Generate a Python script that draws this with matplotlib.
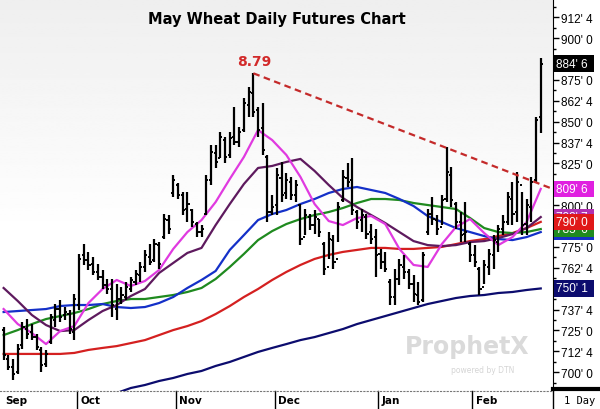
import numpy as np
import matplotlib.pyplot as plt
from matplotlib.lines import Line2D
from matplotlib.ticker import MultipleLocator, FuncFormatter

# daily bars (cents), one per trading day
highs = [727, 710, 708, 717, 730, 732, 729, 723, 715, 713, 735, 741, 743, 739, 737, 747,
         771, 777, 772, 769, 765, 761, 756, 756, 753, 751, 754, 757, 761, 766, 773, 777,
         780, 778, 795, 794, 818, 813, 808, 808, 798, 790, 788, 818, 836, 836, 844, 841,
         844, 859, 847, 864, 871, 879, 859, 861, 830, 806, 822, 826, 819, 817, 815, 801,
         798, 795, 797, 792, 778, 784, 782, 802, 821, 825, 828, 797, 798, 795, 789, 786,
         774, 772, 756, 762, 768, 770, 762, 758, 754, 772, 798, 805, 794, 806, 835, 823,
         802, 796, 802, 778, 776, 763, 767, 774, 782, 788, 794, 808, 814, 820, 808, 804,
         817, 853, 888]
lows = [707, 701, 695, 699, 714, 720, 719, 713, 700, 703, 717, 727, 730, 731, 723, 719,
        737, 764, 761, 758, 755, 750, 747, 733, 731, 741, 743, 748, 752, 754, 760, 764,
        766, 762, 780, 783, 805, 804, 794, 790, 787, 781, 781, 794, 812, 822, 828, 825,
        828, 836, 835, 844, 853, 853, 841, 830, 790, 794, 794, 802, 804, 803, 802, 776,
        782, 785, 783, 781, 758, 768, 762, 778, 802, 811, 794, 786, 784, 780, 777, 757,
        762, 760, 740, 740, 752, 756, 750, 742, 740, 742, 782, 788, 782, 788, 802, 799,
        786, 778, 778, 766, 763, 746, 753, 758, 762, 772, 782, 788, 788, 790, 782, 782,
        790, 814, 843]
opens = [725, 708, 703, 700, 716, 726, 724, 721, 713, 705, 718, 731, 738, 734, 735, 724,
         740, 770, 767, 765, 760, 757, 752, 750, 738, 744, 745, 750, 754, 758, 763, 769,
         767, 776, 781, 791, 807, 812, 806, 798, 797, 789, 784, 795, 815, 831, 828, 839,
         830, 841, 838, 845, 860, 867, 857, 846, 829, 796, 800, 816, 807, 814, 806, 800,
         781, 793, 788, 792, 777, 763, 779, 768, 803, 816, 815, 796, 791, 793, 784, 781,
         771, 766, 754, 745, 756, 763, 760, 753, 746, 743, 784, 795, 791, 787, 804, 818,
         801, 790, 783, 777, 770, 762, 751, 763, 770, 778, 786, 790, 804, 796, 812, 789,
         799, 815, 853]
closes = [710, 703, 699, 714, 727, 723, 721, 715, 704, 711, 733, 738, 733, 736, 726, 744,
          768, 767, 764, 760, 757, 752, 750, 740, 744, 746, 751, 755, 759, 763, 770, 766,
          777, 765, 792, 786, 815, 806, 797, 801, 790, 784, 786, 815, 832, 826, 841, 829,
          840, 838, 844, 861, 868, 856, 845, 833, 796, 799, 818, 806, 815, 806, 812, 780,
          794, 788, 793, 784, 762, 780, 766, 799, 817, 814, 797, 790, 794, 783, 780, 770,
          766, 762, 745, 756, 764, 760, 753, 747, 742, 770, 795, 792, 786, 803, 820, 803,
          790, 782, 784, 770, 766, 750, 764, 771, 779, 786, 790, 805, 795, 814, 788, 800,
          814, 851, 884.75]

# moving averages, read every 3rd bar
ma_9 = [737.8, 728.8, 723.4, 716.8, 724.6, 727.6, 741.4, 749.8, 755.2, 751.6, 754.6, 761.2,
        773.8, 783.9, 791.1, 801.9, 815.7, 828.9, 845.0, 839.0, 830.1, 816.9, 800.7, 790.5,
        788.1, 792.3, 793.5, 788.7, 773.8, 764.2, 763.0, 776.7, 786.9, 791.7, 783.3, 776.1,
        780.9, 789.9, 809.75]
ma_18 = [750.4, 742.6, 734.2, 728.2, 724.6, 725.2, 731.2, 736.6, 740.2, 745.6, 749.8, 759.4,
         765.4, 771.4, 774.4, 788.1, 800.7, 812.7, 822.3, 823.5, 825.9, 827.7, 820.5, 812.1,
         804.3, 798.9, 794.1, 789.3, 783.9, 778.5, 776.1, 775.5, 776.1, 777.9, 778.5, 780.3,
         782.7, 786.3, 792.9]
ma_40 = [736.0, 736.6, 737.2, 737.8, 739.6, 740.2, 740.2, 740.8, 739.0, 738.4, 739.0, 741.4,
         745.0, 750.4, 755.2, 760.6, 773.2, 782.1, 791.1, 794.7, 797.1, 800.7, 803.7, 807.3,
         809.7, 810.9, 809.1, 807.3, 803.7, 799.5, 793.5, 789.9, 786.3, 783.9, 781.5, 779.7,
         779.1, 780.9, 783.9]
ma_50 = [722.2, 725.2, 728.8, 731.8, 733.6, 735.4, 737.8, 740.8, 742.6, 743.8, 743.8, 745.0,
         746.2, 748.0, 750.4, 755.8, 763.0, 770.8, 779.1, 784.5, 788.7, 791.7, 794.1, 795.9,
         798.3, 801.3, 803.7, 803.7, 803.1, 801.3, 800.1, 798.9, 797.7, 792.3, 786.3, 783.9,
         783.3, 783.9, 785.7]
ma_100 = [710.9, 710.9, 710.9, 710.9, 710.9, 711.5, 713.3, 714.5, 715.6, 717.4, 719.2, 722.2,
          725.2, 727.6, 730.6, 734.8, 739.6, 745.0, 749.8, 755.2, 760.0, 764.2, 767.8, 770.2,
          772.0, 773.2, 774.4, 774.4, 773.8, 773.8, 774.4, 775.0, 776.7, 778.5, 779.7, 781.5,
          783.3, 786.3, 790.0]
ma_200 = [687.5, 690.5, 692.3, 694.7, 696.5, 698.9, 700.7, 703.7, 706.1, 709.1, 712.1, 714.5,
          716.8, 719.2, 721.0, 723.4, 725.8, 728.8, 731.2, 733.6, 736.0, 738.4, 740.8, 742.6,
          744.4, 745.6, 746.2, 747.4, 748.0, 749.2, 750.125]

month_names = ['Sep', 'Oct', 'Nov', 'Dec', 'Jan', 'Feb']
month_first_bar = [0, 16, 37, 58, 80, 100]

peak_bar = 53
peak_price = 879
trend_slope = -1.09  # cents per bar

title = 'May Wheat Daily Futures Chart'
axis_font = 'Liberation Sans'


def quote(v):
    whole = int(v)
    eighth = int(round((v - whole) * 8))
    return "%d' %d" % (whole, eighth)


x = np.arange(len(highs))
ma_x = np.arange(0, len(highs), 3)
ma200_x = np.arange(24, len(highs), 3)

fig = plt.figure(figsize=(6, 4.1), dpi=100)
ax = fig.add_axes([0, 18 / 410, 553 / 600, 392 / 410])
x0, x1 = -0.77, 116.6
y0, y1 = 688.7, 923.5
ax.set_xlim(x0, x1)
ax.set_ylim(y0, y1)

# soft grey-to-white background
g = np.linspace(0, 1, 200)
grad = np.clip(0.935 + 0.065 * g / 0.6, 0, 1).reshape(-1, 1)
ax.imshow(grad, extent=[x0, x1, y0, y1], aspect='auto', cmap='gray',
          vmin=0, vmax=1, zorder=0, origin='upper')

# watermark
ax.text(0.845, 0.115, 'ProphetX', transform=ax.transAxes, ha='center', va='center',
        fontsize=17, fontweight='bold', color='#dadada', zorder=1)
ax.text(0.93, 0.055, 'powered by DTN', transform=ax.transAxes, ha='right', va='center',
        fontsize=5.5, color='#d5d5d5', zorder=1)

# moving averages
ax.plot(ma200_x, ma_200, color='#0c0c6e', lw=1.6, zorder=3)
ax.plot(ma_x, ma_100, color='#d42020', lw=1.6, zorder=3)
ax.plot(ma_x, ma_50, color='#1f8a1f', lw=1.6, zorder=3)
ax.plot(ma_x, ma_40, color='#1430c8', lw=1.6, zorder=3)
ax.plot(ma_x, ma_18, color='#5e1a5e', lw=1.6, zorder=3)
ax.plot(ma_x, ma_9, color='#e03ae0', lw=1.6, zorder=3)

# OHLC bars
ax.vlines(x, lows, highs, color='black', lw=1.6, zorder=4)
ax.hlines(opens, x - 0.45, x, color='black', lw=1.4, zorder=4)
ax.hlines(closes, x, x + 0.45, color='black', lw=1.4, zorder=4)

# trend line from the high
tx = np.array([peak_bar, x1])
ax.plot(tx, peak_price + trend_slope * (tx - peak_bar), color='#c42a2a', lw=1.6,
        ls=(0, (3, 2)), zorder=5, clip_on=False)
ax.text(peak_bar + 0.2, peak_price + 3, '%.2f' % (peak_price / 100), ha='center',
        va='bottom', color='#d22a2a', fontsize=10, fontweight='bold', zorder=6)

ax.text(0.5, 0.95, title, transform=ax.transAxes, ha='center', va='center',
        fontsize=10.5, fontweight='bold', color='black', zorder=6)

# right price axis
ax.yaxis.tick_right()
ax.yaxis.set_major_locator(MultipleLocator(12.5))
ax.yaxis.set_minor_locator(MultipleLocator(6.25))
ax.yaxis.set_major_formatter(FuncFormatter(lambda v, p: quote(v)))
ax.tick_params(axis='y', which='major', length=4, width=1, labelsize=8.5, pad=2)
ax.tick_params(axis='y', which='minor', length=2, width=1)
for lab in ax.get_yticklabels():
    lab.set_family(axis_font)
ax.set_xticks([])
for s in ['left', 'top']:
    ax.spines[s].set_visible(False)
ax.spines['right'].set_color('black')
ax.spines['bottom'].set_linestyle((0, (1, 2)))
ax.spines['bottom'].set_color('#777777')

# last-value tags
tags = [(ma_40[-1], '#1430c8'), (ma_50[-1], '#1f8a1f'), (ma_18[-1], '#b030b0'),
        (ma_100[-1], '#e01818'), (ma_9[-1], '#e020e0'), (ma_200[-1], '#0c0c6e'),
        (closes[-1], '#000000')]
for val, col in tags:
    ax.text(1.006, val, quote(val) + ' ', transform=ax.get_yaxis_transform(), ha='left',
            va='center', fontsize=8.5, family=axis_font, color='white', clip_on=False,
            zorder=10, bbox=dict(boxstyle='square,pad=0.2', fc=col, ec='none'))

# month strip
trans = ax.get_xaxis_transform()
for name, b in zip(month_names, month_first_bar):
    if b > 0:
        ax.plot([b - 0.5, b - 0.5], [0, -18 / 392], transform=trans, color='black',
                lw=1, clip_on=False)
    ax.text(max(b - 0.5, x0) + 0.8, -9 / 392, name, transform=trans, ha='left',
            va='center', fontsize=7.5, fontweight='bold', color='black')

fig.add_artist(Line2D([553 / 600, 553 / 600], [0, 18 / 410], color='black', lw=1))
fig.add_artist(Line2D([553 / 600, 1], [20 / 410, 20 / 410], color='black', lw=3))
fig.text(0.94, 9 / 410, '1 Day', family='DejaVu Sans Mono', fontsize=7.5,
         ha='left', va='center', color='black')

fig.savefig('out.png', dpi=100)
